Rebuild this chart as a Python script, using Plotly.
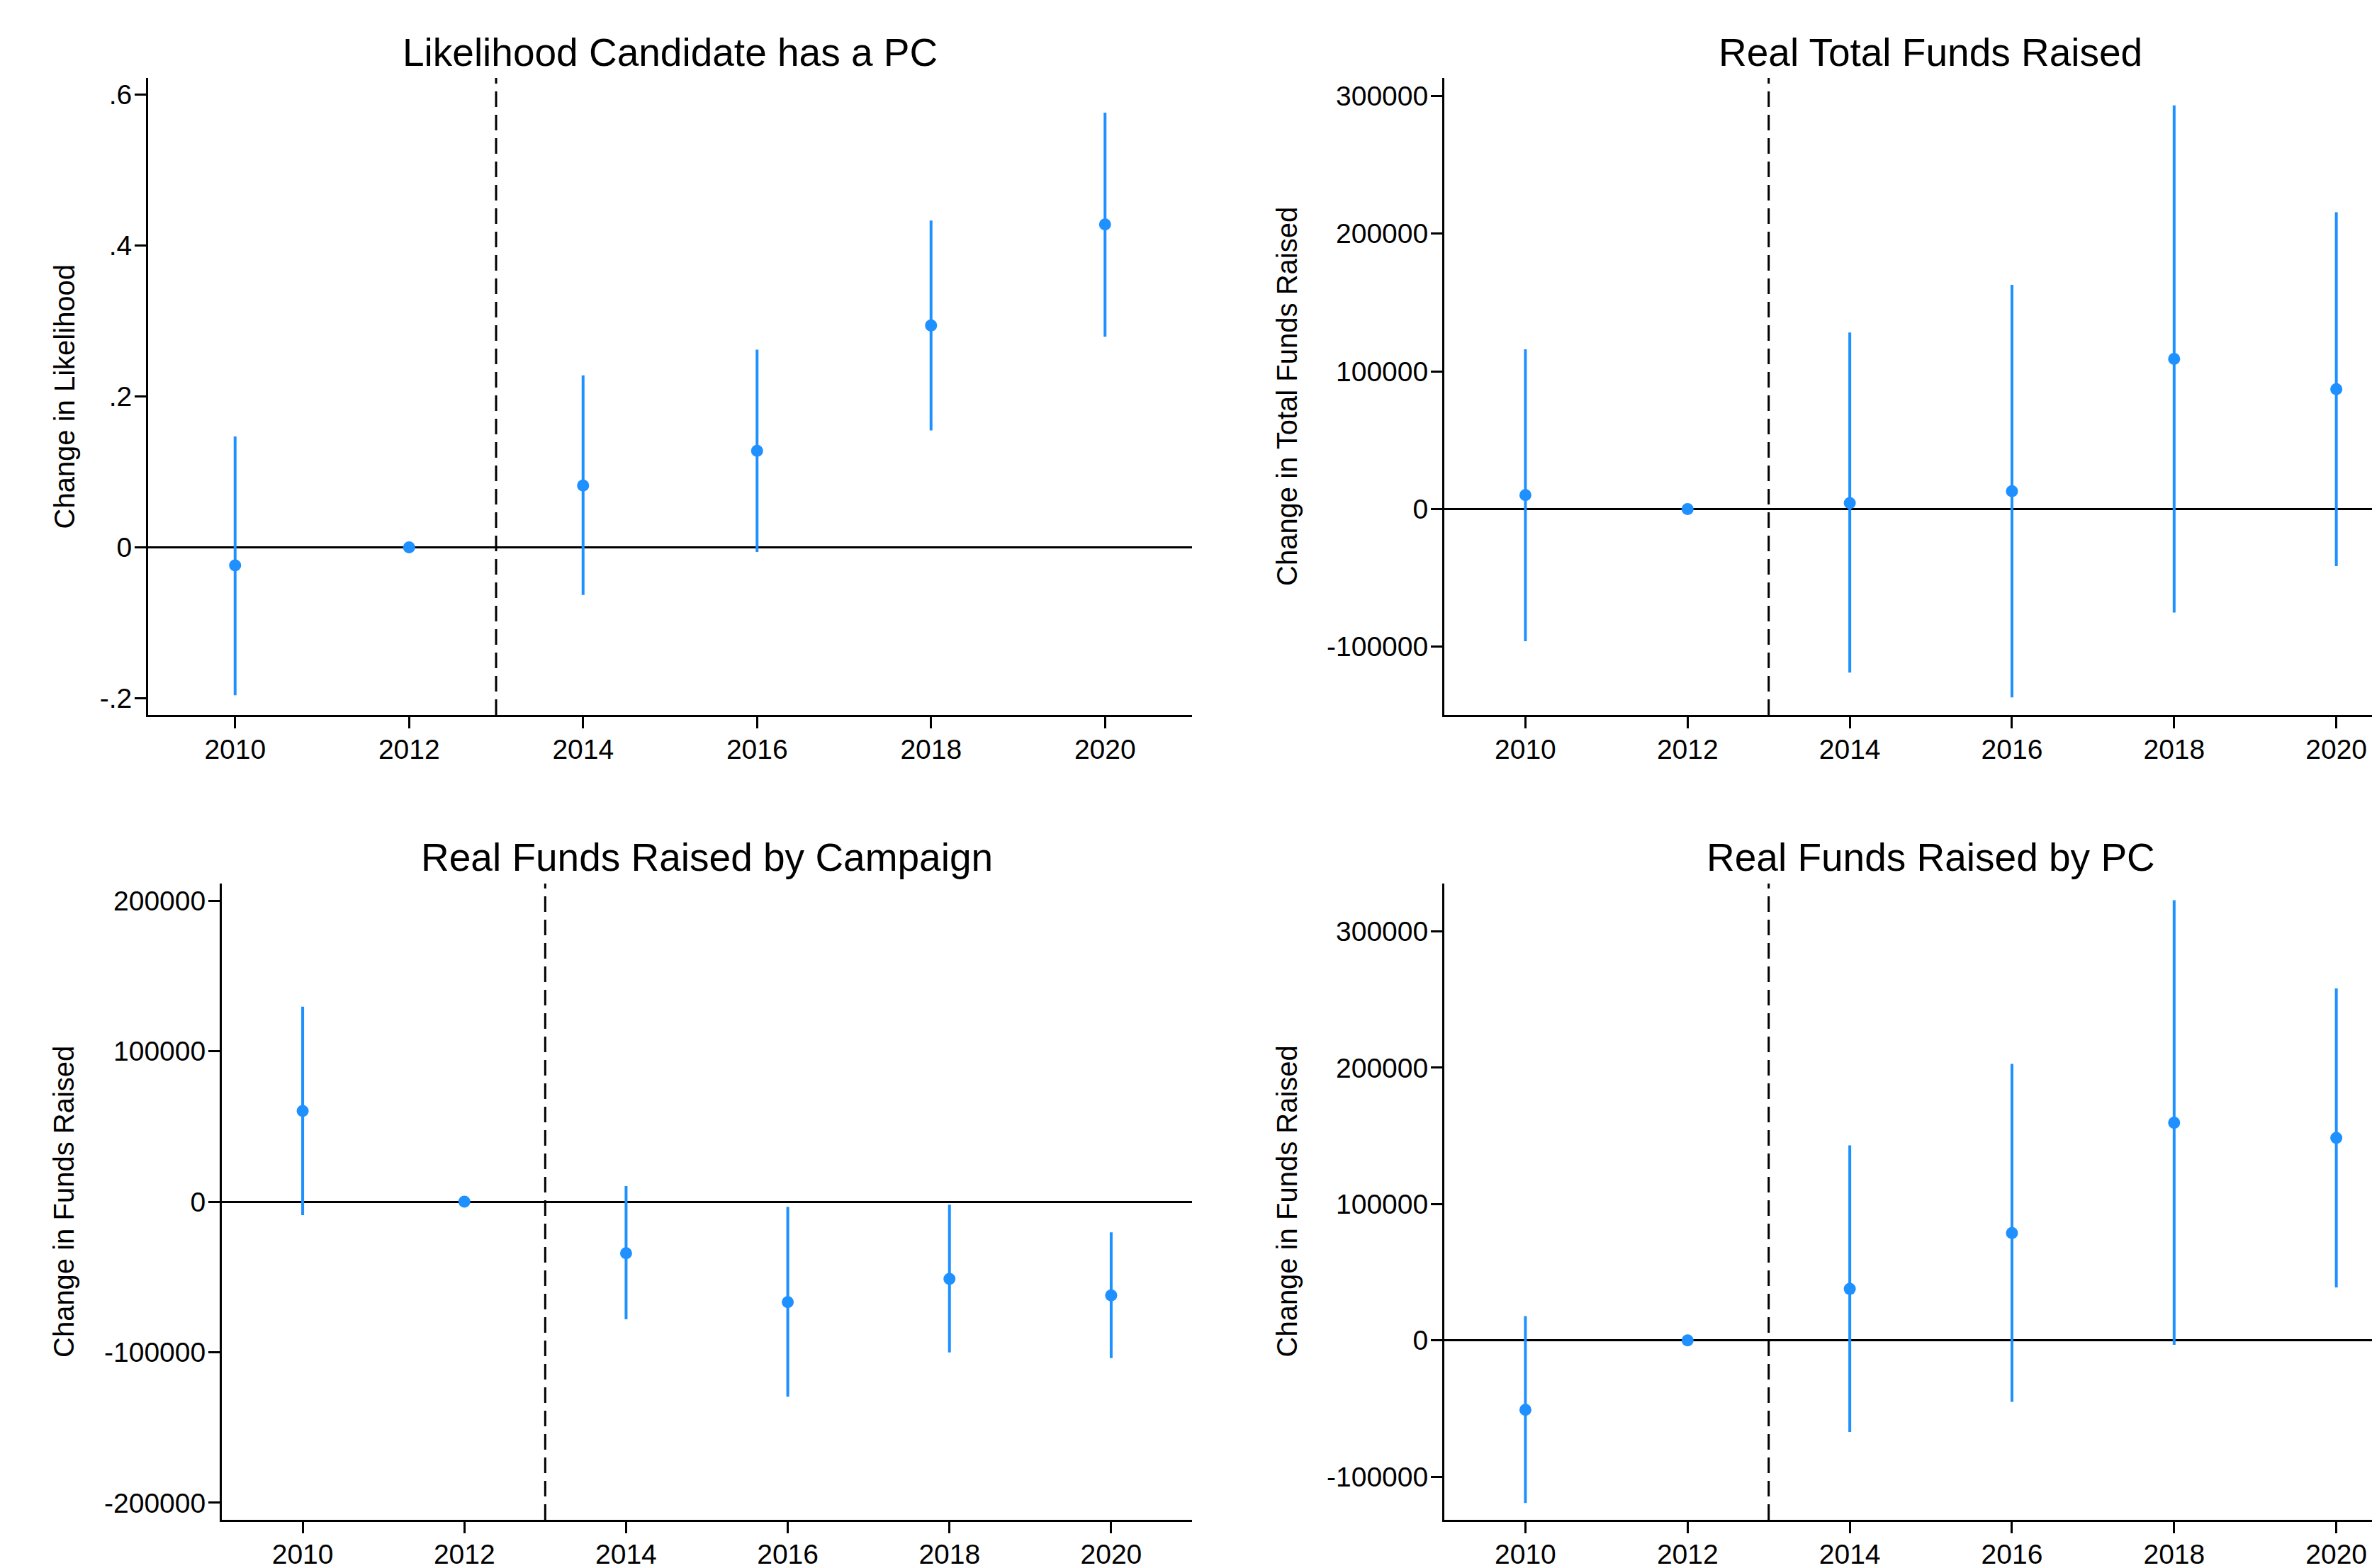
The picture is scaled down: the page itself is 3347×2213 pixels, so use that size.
import plotly.graph_objects as go

years = [2010, 2012, 2014, 2016, 2018, 2020]

# Panel 1: Likelihood Candidate has a PC
p1_est = [-0.024, 0.0, 0.082, 0.128, 0.294, 0.428]
p1_lo = [-0.196, 0.0, -0.063, -0.006, 0.155, 0.279]
p1_hi = [0.147, 0.0, 0.228, 0.262, 0.433, 0.576]

# Panel 2: Real Total Funds Raised
p2_est = [10100, 0, 4300, 13000, 109000, 87000]
p2_lo = [-96000, 0, -118800, -136800, -75100, -41500]
p2_hi = [115900, 0, 128200, 162800, 293100, 215500]

# Panel 3: Real Funds Raised by Campaign
p3_est = [60300, 0, -34200, -66700, -51300, -62300]
p3_lo = [-9000, 0, -78100, -129600, -100200, -103900]
p3_hi = [129600, 0, 10400, -3400, -2000, -20400]

# Panel 4: Real Funds Raised by PC
p4_est = [-51000, 0, 37700, 78700, 159600, 148500]
p4_lo = [-119300, 0, -67200, -45100, -3300, 38800]
p4_hi = [17700, 0, 143000, 202800, 322900, 258200]

titles = ["Likelihood Candidate has a PC", "Real Total Funds Raised",
          "Real Funds Raised by Campaign", "Real Funds Raised by PC"]
ytitles = ["Change in Likelihood", "Change in Total Funds Raised",
           "Change in Funds Raised", "Change in Funds Raised"]

x_ticks = [2010, 2012, 2014, 2016, 2018, 2020]
x_ticktext = ["2010", "2012", "2014", "2016", "2018", "2020"]

y1_ticks = [-0.2, 0, 0.2, 0.4, 0.6]
y1_text = ["-.2", "0", ".2", ".4", ".6"]
y2_ticks = [-100000, 0, 100000, 200000, 300000]
y2_text = ["-100000", "0", "100000", "200000", "300000"]
y3_ticks = [-200000, -100000, 0, 100000, 200000]
y3_text = ["-200000", "-100000", "0", "100000", "200000"]
y4_ticks = [-100000, 0, 100000, 200000, 300000]
y4_text = ["-100000", "0", "100000", "200000", "300000"]

W, H = 3347, 2213
BLUE = "rgb(30,144,255)"
FONT = "Liberation Sans, Arial, sans-serif"

def px_x(p):
    return p / W

def px_y(p):
    return (H - p) / H

panels = [
    dict(est=p1_est, lo=p1_lo, hi=p1_hi, xdom=[px_x(209), px_x(1682)], ydom=[px_y(1009), px_y(110)],
         xr=[2009, 2021], yr=[-0.222, 0.622], yt=y1_ticks, ytt=y1_text,
         tx=945.5, ty=73.7, ytx=90, yty=559.5),
    dict(est=p2_est, lo=p2_lo, hi=p2_hi, xdom=[px_x(2038), 1.0], ydom=[px_y(1009), px_y(110)],
         xr=[2009, 2020.44], yr=[-149500, 313000], yt=y2_ticks, ytt=y2_text,
         tx=2724, ty=73.7, ytx=1815.5, yty=559.5),
    dict(est=p3_est, lo=p3_lo, hi=p3_hi, xdom=[px_x(313), px_x(1682)], ydom=[px_y(2145), px_y(1247)],
         xr=[2009, 2021], yr=[-211350, 211350], yt=y3_ticks, ytt=y3_text,
         tx=997.5, ty=1210, ytx=90, yty=1696),
    dict(est=p4_est, lo=p4_lo, hi=p4_hi, xdom=[px_x(2038), 1.0], ydom=[px_y(2145), px_y(1247)],
         xr=[2009, 2020.44], yr=[-131700, 335100], yt=y4_ticks, ytt=y4_text,
         tx=2724, ty=1210, ytx=1815.5, yty=1696),
]

fig = go.Figure()
annotations = []
shapes = []
layout = {}
for i, p in enumerate(panels):
    n = i + 1
    xa = "x" if n == 1 else f"x{n}"
    ya = "y" if n == 1 else f"y{n}"
    plus = [h - e for h, e in zip(p["hi"], p["est"])]
    minus = [e - l for e, l in zip(p["est"], p["lo"])]
    fig.add_trace(go.Scatter(
        x=years, y=p["est"], mode="markers", xaxis=xa, yaxis=ya,
        marker=dict(size=17, color=BLUE),
        error_y=dict(type="data", symmetric=False, array=plus, arrayminus=minus,
                     width=0, thickness=4, color=BLUE),
        showlegend=False, cliponaxis=False,
    ))
    xkey = "xaxis" if n == 1 else f"xaxis{n}"
    ykey = "yaxis" if n == 1 else f"yaxis{n}"
    layout[xkey] = dict(
        domain=p["xdom"], range=p["xr"], anchor=ya, showgrid=False, zeroline=False,
        showline=True, linecolor="black", linewidth=3, ticks="outside", ticklen=16,
        tickwidth=3, tickcolor="black", tickvals=x_ticks, ticktext=x_ticktext,
        tickfont=dict(family=FONT, size=39, color="black"), automargin=False,
        ticklabelstandoff=-4,
    )
    layout[ykey] = dict(
        domain=p["ydom"], range=p["yr"], anchor=xa, showgrid=False, zeroline=True,
        zerolinecolor="black", zerolinewidth=3, showline=True, linecolor="black",
        linewidth=3, ticks="outside", ticklen=16, tickwidth=3, tickcolor="black",
        tickvals=p["yt"], ticktext=p["ytt"],
        tickfont=dict(family=FONT, size=39, color="black"), automargin=False,
        ticklabelstandoff=-4,
    )
    shapes.append(dict(type="line", xref=xa, yref=f"{ya} domain", x0=2013, x1=2013,
                       y0=0, y1=1, line=dict(color="black", width=3, dash="22px,11px"),
                       layer="above"))
    annotations.append(dict(text=titles[i], xref="paper", yref="paper",
                            x=px_x(p["tx"]), y=px_y(p["ty"]), xanchor="center", yanchor="middle",
                            showarrow=False, font=dict(family=FONT, size=55, color="black")))
    annotations.append(dict(text=ytitles[i], xref="paper", yref="paper",
                            x=px_x(p["ytx"]), y=px_y(p["yty"]), xanchor="center", yanchor="middle",
                            textangle=-90, showarrow=False,
                            font=dict(family=FONT, size=40, color="black")))

fig.update_layout(
    width=W, height=H, margin=dict(l=0, r=0, t=0, b=0),
    paper_bgcolor="white", plot_bgcolor="white",
    annotations=annotations, shapes=shapes, **layout,
)

fig.write_html("out.html", config={"displayModeBar": False},
               post_script="document.body.style.margin='0';document.body.style.overflow='hidden';")
